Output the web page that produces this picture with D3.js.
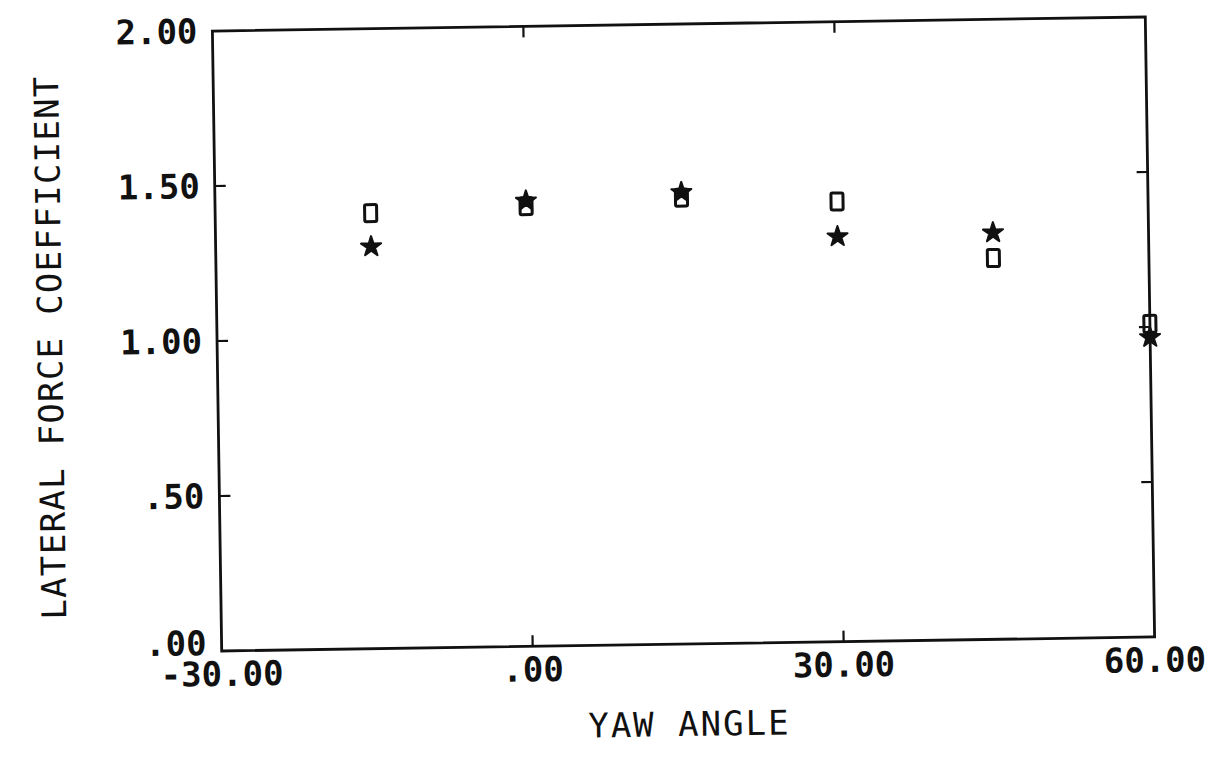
<!DOCTYPE html>
<html>
<head>
<meta charset="utf-8">
<script src="https://cdn.jsdelivr.net/npm/d3@7"></script>
<style>
  html, body { margin: 0; padding: 0; background: #fff; }
  svg { display: block; }
  text { font-family: "DejaVu Sans Mono", "Liberation Mono", monospace; fill: #111; }
</style>
</head>
<body>
<svg id="chart" width="1210" height="760"></svg>
<script>
// Yaw angle (deg) at which each run was measured
const yawAngles = [-15, 0, 15, 30, 45, 60];
// Lateral force coefficient, square-marker series
const squareSeries = [1.405, 1.42, 1.44, 1.42, 1.23, 1.01];
// Lateral force coefficient, star-marker series
const starSeries = [1.30, 1.44, 1.46, 1.31, 1.315, 0.97];
// Axis ticks and their printed labels
const xTicks = [-30, 0, 30, 60];
const xTickLabels = ["-30.00", ".00", "30.00", "60.00"];
const yTicks = [0, 0.5, 1.0, 1.5, 2.0];
const yTickLabels = [".00", ".50", "1.00", "1.50", "2.00"];

const svg = d3.select("#chart");
const frame = { left: 217, right: 1150, top: 24, bottom: 644 };
const cx = (frame.left + frame.right) / 2, cy = (frame.top + frame.bottom) / 2;

// whole plot sits on the page with a slight counter-clockwise tilt
const g = svg.append("g").attr("transform", `rotate(-0.86 ${cx} ${cy})`);

const x = d3.scaleLinear().domain([-30, 60]).range([frame.left, frame.right]);
const y = d3.scaleLinear().domain([0, 2]).range([frame.bottom, frame.top]);

// frame
g.append("rect")
  .attr("x", frame.left).attr("y", frame.top)
  .attr("width", frame.right - frame.left).attr("height", frame.bottom - frame.top)
  .attr("fill", "none").attr("stroke", "#111").attr("stroke-width", 2.8);

// inward tick marks on all four sides (interior ticks only)
const innerX = xTicks.slice(1, -1);
const innerY = yTicks.slice(1, -1);
const tickLen = 11;
const ticks = g.append("g").attr("stroke", "#111").attr("stroke-width", 2.2);
ticks.selectAll(".tb").data(innerX).join("line")
  .attr("x1", d => x(d)).attr("x2", d => x(d))
  .attr("y1", frame.bottom).attr("y2", frame.bottom - tickLen);
ticks.selectAll(".tt").data(innerX).join("line")
  .attr("x1", d => x(d)).attr("x2", d => x(d))
  .attr("y1", frame.top).attr("y2", frame.top + tickLen);
ticks.selectAll(".tl").data(innerY).join("line")
  .attr("x1", frame.left).attr("x2", frame.left + tickLen)
  .attr("y1", d => y(d)).attr("y2", d => y(d));
ticks.selectAll(".tr").data(innerY).join("line")
  .attr("x1", frame.right).attr("x2", frame.right - tickLen)
  .attr("y1", d => y(d)).attr("y2", d => y(d));

// tick labels
g.append("g").selectAll("text").data(xTicks).join("text")
  .attr("x", d => x(d)).attr("y", frame.bottom + 35)
  .attr("text-anchor", "middle")
  .attr("font-size", 34).attr("font-weight", "bold")
  .text((d, i) => xTickLabels[i]);

g.append("g").selectAll("text").data(yTicks).join("text")
  .attr("x", frame.left - 15).attr("y", d => y(d) + (d === 0 ? 4 : 12))
  .attr("text-anchor", "end")
  .attr("font-size", 34).attr("font-weight", "bold")
  .text((d, i) => yTickLabels[i]);

// axis titles
g.append("text")
  .attr("x", (frame.left + frame.right) / 2).attr("y", frame.bottom + 92)
  .attr("text-anchor", "middle")
  .attr("font-size", 34).attr("letter-spacing", 2)
  .text("YAW ANGLE");

g.append("text")
  .attr("transform", `translate(62, ${(frame.top + frame.bottom) / 2 + 4}) rotate(-90)`)
  .attr("text-anchor", "middle")
  .attr("font-size", 34).attr("letter-spacing", 1.3)
  .text("LATERAL FORCE COEFFICIENT");

// open rectangle markers
const sqW = 12, sqH = 17;
g.append("g").selectAll("rect").data(yawAngles).join("rect")
  .attr("x", d => x(d) - sqW / 2)
  .attr("y", (d, i) => y(squareSeries[i]) - sqH / 2)
  .attr("width", sqW).attr("height", sqH).attr("rx", 1.5)
  .attr("fill", "none").attr("stroke", "#111").attr("stroke-width", 3);

// filled star markers
const star = d3.symbol().type(d3.symbolStar).size(125);
g.append("g").selectAll("path").data(yawAngles).join("path")
  .attr("transform", (d, i) => `translate(${x(d)},${y(starSeries[i]) + 1})`)
  .attr("d", star)
  .attr("fill", "#111").attr("stroke", "#111").attr("stroke-width", 2)
  .attr("stroke-linejoin", "round");
</script>
</body>
</html>
